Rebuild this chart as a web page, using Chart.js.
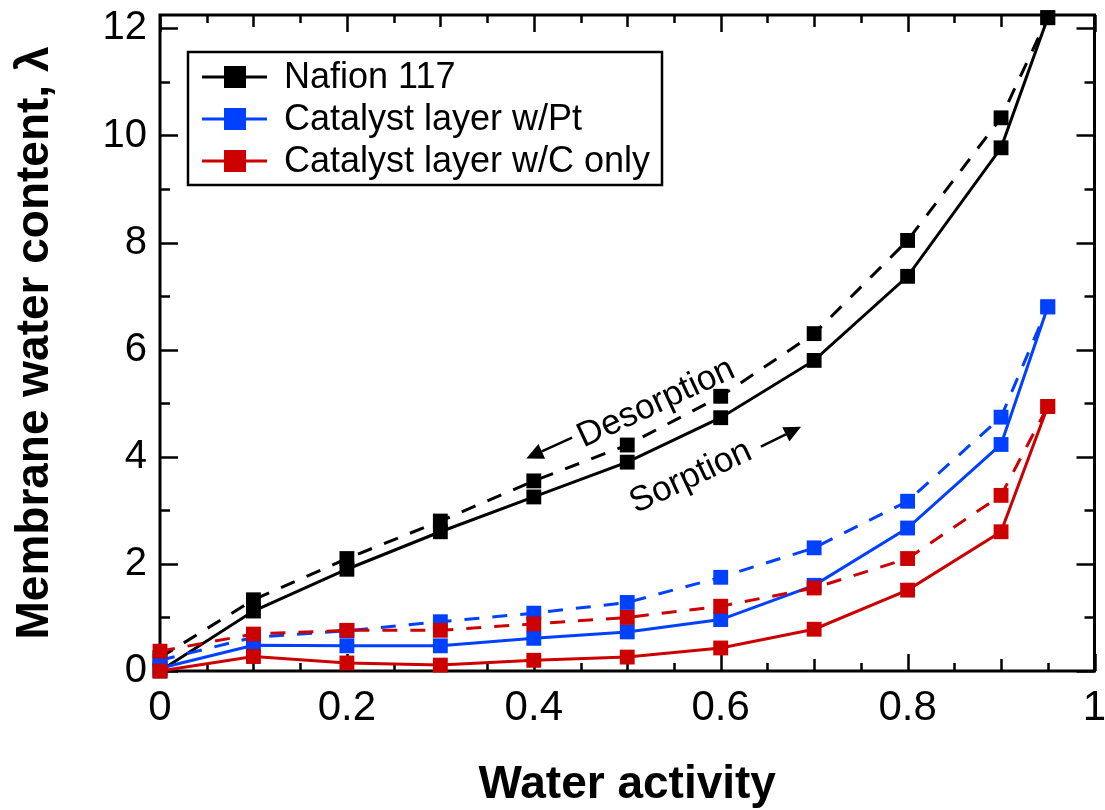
<!DOCTYPE html>
<html>
<head>
<meta charset="utf-8">
<script src="https://cdn.jsdelivr.net/npm/chart.js@4.4.1/dist/chart.umd.min.js"></script>
<style>
html,body{margin:0;padding:0;background:#ffffff;}
#wrap{width:1105px;height:810px;position:relative;}
</style>
</head>
<body>
<div id="wrap"><canvas id="c" width="1105" height="810"></canvas></div>
<script>
// ---- data ----
const activity = [0, 0.1, 0.2, 0.3, 0.4, 0.5, 0.6, 0.7, 0.8, 0.9, 0.95];
const nafionSorption    = [0.00, 1.12, 1.90, 2.60, 3.25, 3.90, 4.73, 5.80, 7.37, 9.77, 12.20];
const nafionDesorption  = [0.25, 1.33, 2.10, 2.80, 3.55, 4.22, 5.13, 6.30, 8.04, 10.33, 12.20];
const ptSorption        = [0.05, 0.48, 0.47, 0.47, 0.61, 0.73, 0.96, 1.60, 2.67, 4.23, 6.80];
const ptDesorption      = [0.20, 0.63, 0.75, 0.92, 1.08, 1.28, 1.75, 2.30, 3.17, 4.74, 6.80];
const cOnlySorption     = [0.00, 0.27, 0.15, 0.11, 0.20, 0.26, 0.43, 0.78, 1.51, 2.60, 4.94];
const cOnlyDesorption   = [0.37, 0.69, 0.76, 0.76, 0.88, 1.00, 1.21, 1.55, 2.10, 3.28, 4.94];

const seriesNames = ['Nafion 117', 'Catalyst layer w/Pt', 'Catalyst layer w/C only'];
const xTickValues = [0, 0.2, 0.4, 0.6, 0.8, 1];
const xTickLabels = ['0', '0.2', '0.4', '0.6', '0.8', '1'];
const yTickValues = [0, 2, 4, 6, 8, 10, 12];
const yTickLabels = ['0', '2', '4', '6', '8', '10', '12'];
const xTitle = 'Water activity';
const yTitle = 'Membrane water content, \u03bb';
const annotationTexts = ['Desorption', 'Sorption'];

// ---- styles ----
const FONT = "'Liberation Sans', Arial, Helvetica, sans-serif";
const colors = ['#000000', '#0040ff', '#cc0000'];
const annotationPlacement = [
  {x: 0.531, y: 5.00, angle: -25, arrowFrom: [0.441, 4.36], arrowTo: [0.392, 3.97]},
  {x: 0.568, y: 3.62, angle: -25, arrowFrom: [0.643, 4.19], arrowTo: [0.686, 4.56]}
];

function makeSet(label, values, color, dashed, order) {
  return {
    label: label,
    data: values.map((v, i) => ({x: activity[i], y: v})),
    borderColor: color,
    backgroundColor: color,
    borderWidth: 3,
    borderDash: dashed ? [15, 13] : [],
    pointStyle: 'rect',
    pointRadius: 10.5,
    pointHoverRadius: 10.5,
    pointBorderWidth: 0,
    pointBackgroundColor: color,
    pointBorderColor: color,
    fill: false,
    tension: 0,
    order: order,
    clip: false,
    showInLegend: !dashed
  };
}

const datasets = [
  makeSet(seriesNames[0], nafionSorption, colors[0], false, 4),
  makeSet(seriesNames[0] + ' desorption', nafionDesorption, colors[0], true, 5),
  makeSet(seriesNames[1], ptSorption, colors[1], false, 2),
  makeSet(seriesNames[1] + ' desorption', ptDesorption, colors[1], true, 3),
  makeSet(seriesNames[2], cOnlySorption, colors[2], false, 0),
  makeSet(seriesNames[2] + ' desorption', cOnlyDesorption, colors[2], true, 1)
];

// frame + inward ticks
const framePlugin = {
  id: 'frameTicks',
  beforeDatasetsDraw(chart) {
    const ctx = chart.ctx;
    const {left, right, top, bottom} = chart.chartArea;
    const xs = chart.scales.x, ys = chart.scales.y;
    ctx.save();
    ctx.strokeStyle = '#000';
    ctx.lineWidth = 2.5;
    ctx.lineCap = 'butt';
    for (let k = 0; k <= 20; k++) {
      const v = k * 0.05;
      const px = Math.round(xs.getPixelForValue(v)) + 0.5;
      let len = 8;
      if (k % 4 === 0) len = 17; else if (k % 2 === 0) len = 12;
      ctx.beginPath();
      ctx.moveTo(px, bottom); ctx.lineTo(px, bottom - len);
      ctx.moveTo(px, top); ctx.lineTo(px, top + len);
      ctx.stroke();
    }
    for (let v = 0; v <= 12; v++) {
      const py = Math.round(ys.getPixelForValue(v)) + 0.5;
      const len = (v % 2 === 0) ? 18 : 10;
      ctx.beginPath();
      ctx.moveTo(left, py); ctx.lineTo(left + len, py);
      ctx.moveTo(right, py); ctx.lineTo(right - len, py);
      ctx.stroke();
    }
    ctx.lineWidth = 3;
    ctx.strokeRect(left, top, right - left, bottom - top);
    ctx.restore();
  },
  afterDatasetsDraw(chart) {
    const ctx = chart.ctx;
    const xs = chart.scales.x, ys = chart.scales.y;
    ctx.save();
    // legend
    const bx = 188, by = 52, bw = 474, bh = 133;
    ctx.fillStyle = '#fff';
    ctx.fillRect(bx, by, bw, bh);
    ctx.strokeStyle = '#000';
    ctx.lineWidth = 2.5;
    ctx.strokeRect(bx, by, bw, bh);
    const legendSets = chart.data.datasets.filter(d => d.showInLegend);
    ctx.font = '36px ' + FONT;
    ctx.textBaseline = 'middle';
    ctx.textAlign = 'left';
    legendSets.forEach((d, i) => {
      const cy = 77 + i * 42;
      ctx.strokeStyle = d.borderColor;
      ctx.lineWidth = 3;
      ctx.beginPath();
      ctx.moveTo(202, cy); ctx.lineTo(267, cy);
      ctx.stroke();
      ctx.fillStyle = d.borderColor;
      ctx.fillRect(235 - 11, cy - 11, 22, 22);
      ctx.fillStyle = '#000';
      ctx.fillText(d.label, 284, cy + 1);
    });
    // annotations
    ctx.fillStyle = '#000';
    ctx.strokeStyle = '#000';
    ctx.font = '35px ' + FONT;
    ctx.textAlign = 'center';
    ctx.textBaseline = 'middle';
    annotationPlacement.forEach((a, i) => {
      const px = xs.getPixelForValue(a.x), py = ys.getPixelForValue(a.y);
      ctx.save();
      ctx.translate(px, py);
      ctx.rotate(a.angle * Math.PI / 180);
      ctx.fillText(annotationTexts[i], 0, 0);
      ctx.restore();
      const x1 = xs.getPixelForValue(a.arrowFrom[0]), y1 = ys.getPixelForValue(a.arrowFrom[1]);
      const x2 = xs.getPixelForValue(a.arrowTo[0]), y2 = ys.getPixelForValue(a.arrowTo[1]);
      const ang = Math.atan2(y2 - y1, x2 - x1);
      const hl = 17, hw = 8;
      const bxp = x2 - hl * Math.cos(ang), byp = y2 - hl * Math.sin(ang);
      ctx.lineWidth = 2.5;
      ctx.beginPath();
      ctx.moveTo(x1, y1); ctx.lineTo(bxp, byp);
      ctx.stroke();
      ctx.beginPath();
      ctx.moveTo(x2, y2);
      ctx.lineTo(bxp + hw * Math.sin(ang), byp - hw * Math.cos(ang));
      ctx.lineTo(bxp - hw * Math.sin(ang), byp + hw * Math.cos(ang));
      ctx.closePath();
      ctx.fill();
    });
    ctx.restore();
  }
};

new Chart(document.getElementById('c'), {
  type: 'line',
  data: {datasets: datasets},
  options: {
    responsive: false,
    animation: false,
    devicePixelRatio: 1,
    layout: {padding: {top: 15, right: 6, left: 0, bottom: 0}},
    plugins: {legend: {display: false}, tooltip: {enabled: false}},
    scales: {
      x: {
        type: 'linear',
        min: 0, max: 1,
        afterBuildTicks(scale) { scale.ticks = xTickValues.map(v => ({value: v})); },
        afterFit(scale) { scale.height = 139; scale.paddingLeft = 0; scale.paddingRight = 0; },
        grid: {display: false, drawTicks: false},
        border: {display: false},
        ticks: {
          padding: 12,
          color: '#000',
          font: {family: FONT, size: 42},
          maxRotation: 0,
          autoSkip: false,
          callback: (v, i) => xTickLabels[i]
        },
        title: {
          display: true,
          text: xTitle,
          color: '#000',
          font: {family: FONT, size: 46, weight: 'bold', lineHeight: 1},
          padding: {top: 0, bottom: 2}
        }
      },
      y: {
        type: 'linear',
        min: 0, max: 12.25,
        afterBuildTicks(scale) { scale.ticks = yTickValues.map(v => ({value: v})); },
        afterFit(scale) { scale.width = 160; scale.paddingTop = 0; scale.paddingBottom = 0; },
        grid: {display: false, drawTicks: false},
        border: {display: false},
        ticks: {
          padding: 13,
          color: '#000',
          font: {family: FONT, size: 40},
          autoSkip: false,
          callback: (v, i) => yTickLabels[i]
        },
        title: {
          display: true,
          text: yTitle,
          color: '#000',
          font: {family: FONT, size: 46, weight: 'bold', lineHeight: 1},
          padding: {top: 12, bottom: 0}
        }
      }
    }
  },
  plugins: [framePlugin]
});
</script>
</body>
</html>
